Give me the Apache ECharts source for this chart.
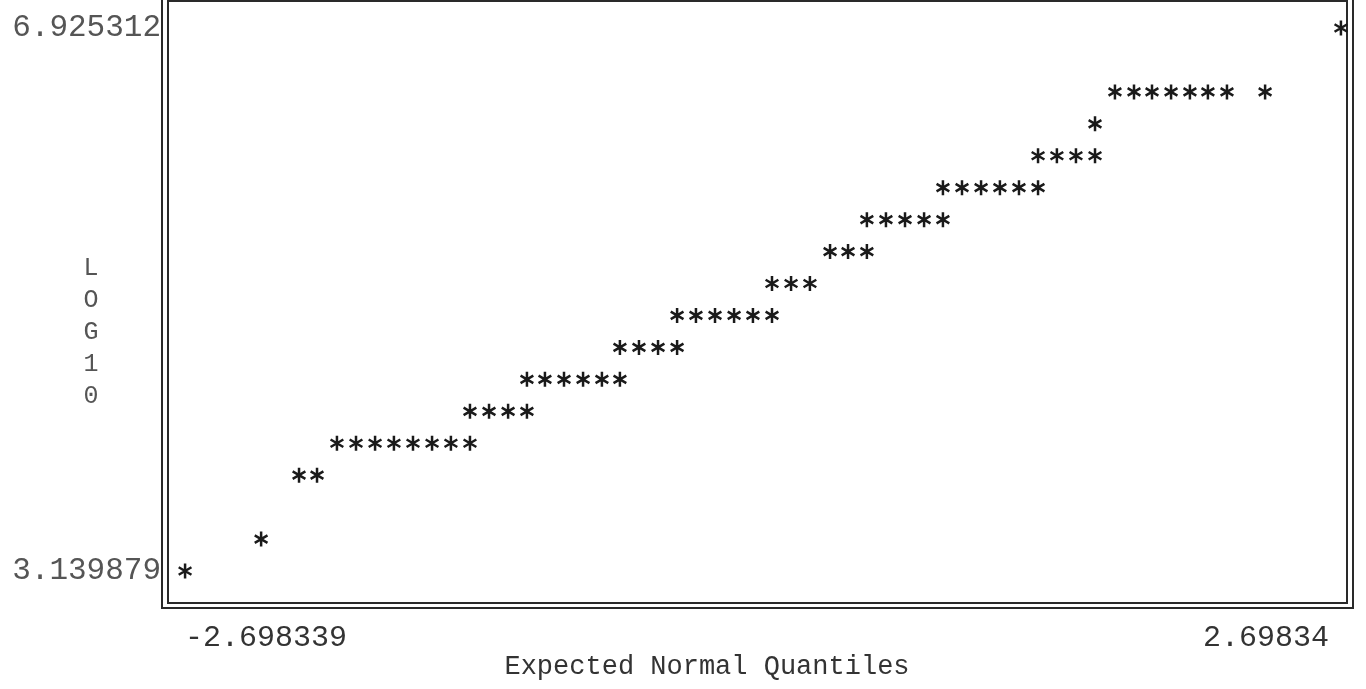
<!DOCTYPE html>
<html>
<head>
<meta charset="utf-8">
<title>Expected Normal Quantiles</title>
<script src="https://cdn.jsdelivr.net/npm/echarts@6/dist/echarts.min.js"></script>
<style>
  html, body { margin: 0; padding: 0; background: #ffffff; }
  #chart { width: 1366px; height: 689px; }
</style>
</head>
<body>
<div id="chart"></div>
<script>
// Axis range and the tick labels printed at its two ends
const X_MIN = -2.698339;
const X_MAX = 2.69834;
const Y_MIN = 3.139879;
const Y_MAX = 6.925312;
const xTickLabels = ['-2.698339', '2.69834'];
const yTickLabels = ['3.139879', '6.925312'];

// Expected normal quantile of each observation
const quantiles = [
  -2.698,
  -2.343,
  -2.166, -2.082,
  -1.989, -1.900, -1.811, -1.723, -1.634, -1.545, -1.457, -1.368,
  -1.368, -1.279, -1.190, -1.102,
  -1.102, -1.018, -0.929, -0.840, -0.752, -0.668,
  -0.668, -0.579, -0.490, -0.401,
  -0.401, -0.313, -0.224, -0.135, -0.047, 0.042,
  0.042, 0.131, 0.219,
  0.313, 0.397, 0.485,
  0.485, 0.574, 0.663, 0.752, 0.840,
  0.840, 0.929, 1.018, 1.106, 1.195, 1.284,
  1.284, 1.372, 1.461, 1.550,
  1.550,
  1.643, 1.732, 1.816, 1.905, 1.993, 2.077, 2.166, 2.344,
  2.698
];

// LOG10 value of each observation (same order)
const log10Values = [
  3.1399,
  3.3625,
  3.8079, 3.8079,
  4.0306, 4.0306, 4.0306, 4.0306, 4.0306, 4.0306, 4.0306, 4.0306,
  4.2532, 4.2532, 4.2532, 4.2532,
  4.4759, 4.4759, 4.4759, 4.4759, 4.4759, 4.4759,
  4.6986, 4.6986, 4.6986, 4.6986,
  4.9213, 4.9213, 4.9213, 4.9213, 4.9213, 4.9213,
  5.1440, 5.1440, 5.1440,
  5.3666, 5.3666, 5.3666,
  5.5893, 5.5893, 5.5893, 5.5893, 5.5893,
  5.8120, 5.8120, 5.8120, 5.8120, 5.8120, 5.8120,
  6.0347, 6.0347, 6.0347, 6.0347,
  6.2573,
  6.4800, 6.4800, 6.4800, 6.4800, 6.4800, 6.4800, 6.4800, 6.4800,
  6.9253
];

// Six-spoked asterisk marker built from three crossing bars
function asteriskPath() {
  const c = 50, L = 50, W = 8.5;
  let d = '';
  [0, 60, 120].forEach(function (deg) {
    const t = deg * Math.PI / 180;
    const dx = Math.sin(t), dy = -Math.cos(t);
    const nx = Math.cos(t), ny = Math.sin(t);
    const pts = [
      [c + L * dx + W * nx, c + L * dy + W * ny],
      [c + L * dx - W * nx, c + L * dy - W * ny],
      [c - L * dx - W * nx, c - L * dy - W * ny],
      [c - L * dx + W * nx, c - L * dy + W * ny]
    ];
    d += 'M' + pts.map(function (p) { return p[0].toFixed(2) + ' ' + p[1].toFixed(2); }).join(' L') + ' Z ';
  });
  return 'path://' + d;
}

const points = quantiles.map(function (q, i) { return [q, log10Values[i]]; });

const MONO = "'Liberation Mono', 'Courier New', 'DejaVu Sans Mono', monospace";

const chart = echarts.init(document.getElementById('chart'), null, { renderer: 'canvas' });

chart.setOption({
  backgroundColor: '#ffffff',
  animation: false,
  grid: { left: 185, right: 25, top: 28, bottom: 118, containLabel: false },
  xAxis: {
    type: 'value',
    min: X_MIN,
    max: X_MAX,
    axisLine: { show: false },
    axisTick: { show: false },
    splitLine: { show: false },
    axisLabel: {
      customValues: [X_MIN, X_MAX],
      formatter: function (v) {
        return v < 0 ? '{lo|' + xTickLabels[0] + '}' : '{hi|' + xTickLabels[1] + '}';
      },
      alignMinLabel: 'left',
      alignMaxLabel: 'right',
      margin: 52,
      fontFamily: MONO,
      fontSize: 30,
      color: '#333333',
      rich: {
        lo: { fontFamily: MONO, fontSize: 30, color: '#333333' },
        hi: { fontFamily: MONO, fontSize: 30, color: '#333333', padding: [0, 12, 0, 0] }
      }
    }
  },
  yAxis: {
    type: 'value',
    min: Y_MIN,
    max: Y_MAX,
    axisLine: { show: false },
    axisTick: { show: false },
    splitLine: { show: false },
    axisLabel: {
      customValues: [Y_MIN, Y_MAX],
      formatter: function (v) { return v < 5 ? yTickLabels[0] : yTickLabels[1]; },
      margin: 24,
      fontFamily: MONO,
      fontSize: 31,
      color: '#555555'
    }
  },
  graphic: [
    // double-ruled plot frame
    { type: 'rect', silent: true, shape: { x: 162, y: -3, width: 1191, height: 611 },
      style: { fill: 'none', stroke: '#2a2a2a', lineWidth: 2 } },
    { type: 'rect', silent: true, shape: { x: 168, y: 1, width: 1179, height: 602 },
      style: { fill: 'none', stroke: '#2a2a2a', lineWidth: 2 } },
    // vertical y-axis title
    { type: 'text', silent: true, x: 91, y: 332,
      style: { text: 'L\nO\nG\n1\n0', font: '25px ' + MONO, fill: '#555555',
               align: 'center', verticalAlign: 'middle', lineHeight: 32 } },
    // x-axis title
    { type: 'text', silent: true, x: 707, y: 667,
      style: { text: 'Expected Normal Quantiles', font: '27px ' + MONO, fill: '#333333',
               align: 'center', verticalAlign: 'middle' } }
  ],
  series: [{
    type: 'scatter',
    data: points,
    symbol: asteriskPath(),
    symbolSize: [14, 15],
    itemStyle: { color: '#1a1a1a', opacity: 1 },
    emphasis: { disabled: true }
  }]
});
</script>
</body>
</html>
